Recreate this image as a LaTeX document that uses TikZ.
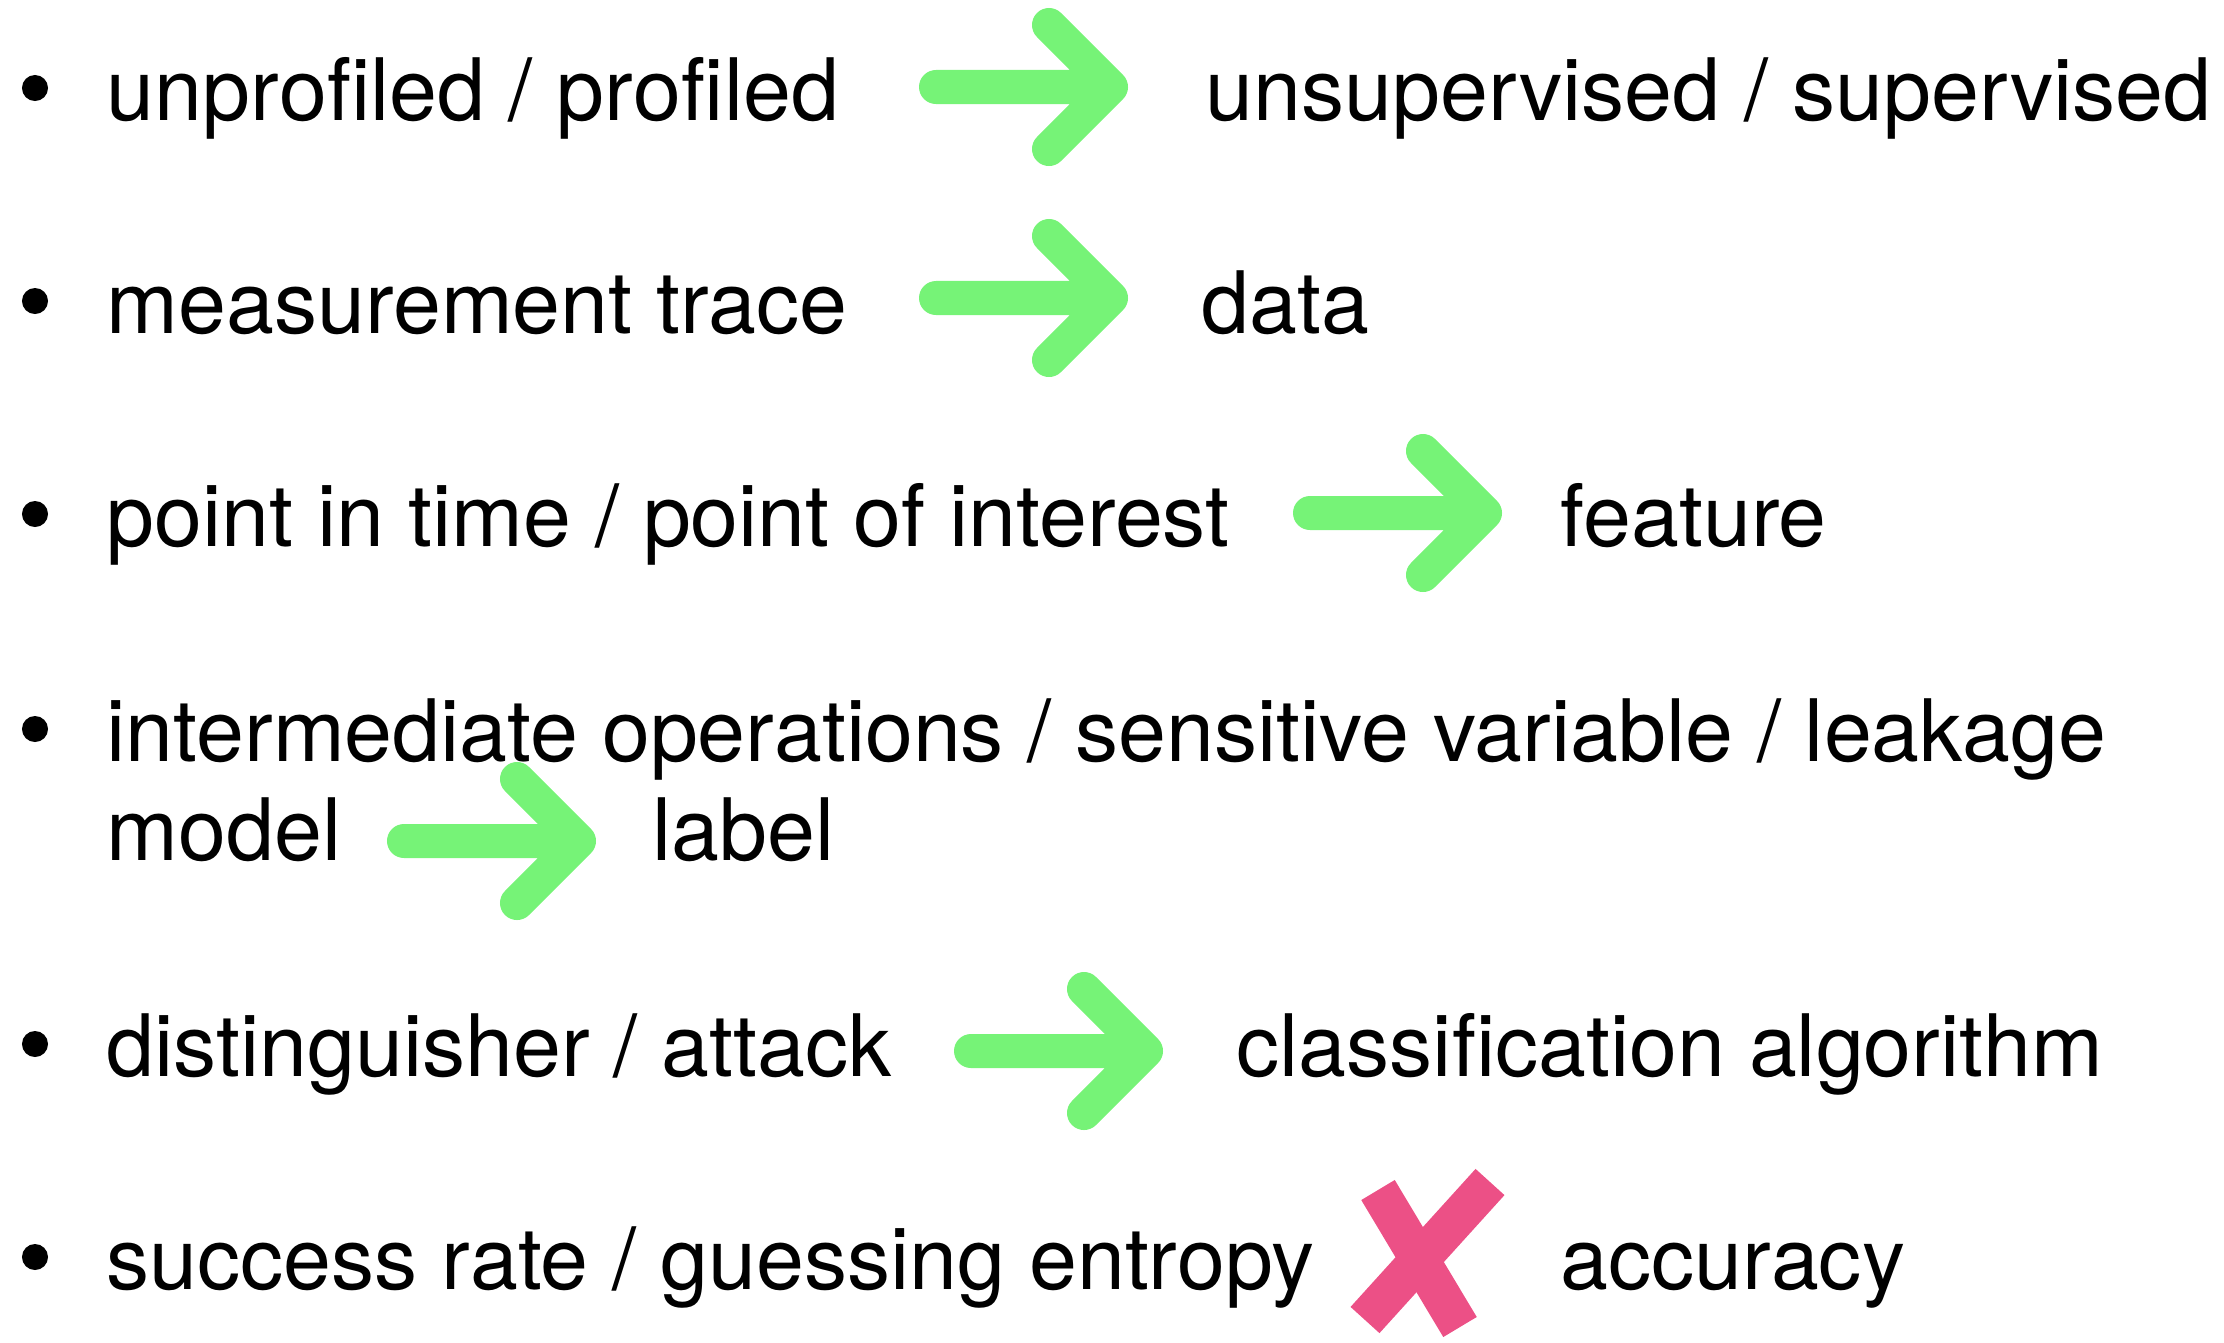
\documentclass[tikz,border=0pt]{standalone}
\usepackage{fontspec}
\setmainfont{TeX Gyre Heros}[Ligatures=NoCommon]
\usetikzlibrary{calc}
\definecolor{arrowgreen}{RGB}{118,243,119}
\definecolor{crosspink}{RGB}{236,80,134}

\begin{document}
\begin{tikzpicture}[x=0.01cm, y=-0.01cm]
    \tikzset{item/.style={anchor=base west, inner sep=0pt, font=\fontsize{24.5}{29}\selectfont},
        dot/.style={circle, fill=black, inner sep=0pt, minimum size=0.26cm},
        goesto/.style={draw=arrowgreen, line width=0.34cm, line cap=round, line join=round},
        wrong/.style={draw=crosspink, line width=0.39cm}
    }
    \useasboundingbox (0,0) rectangle (2224,1342);

    \foreach \i / \y in {1/120, 2/333, 3/546, 4/761, 5/1076, 6/1289} {
        \node (B\i) [dot] at (35, \y-32) {};
    }

    \node (L1) [item] at (106,120) {unprofiled / profiled};
    \node (R1) [item] at (1205,120) {unsupervised / supervised};
    \node (L2) [item] at (106,333) {measurement trace};
    \node (R2) [item] at (1201,333) {data};
    \node (L3) [item] at (106,546) {point in time / point of interest};
    \node (R3) [item] at (1560,546) {feature};
    \node (L4) [item] at (106,761) {intermediate operations / sensitive variable / leakage};
    \node (L4b) [item] at (106,860) {model};
    \node (R4) [item] at (652,860) {label};
    \node (L5) [item] at (106,1076) {distinguisher / attack};
    \node (R5) [item] at (1236,1076) {classification algorithm};
    \node (L6) [item] at (106,1289) {success rate / guessing entropy};
    \node (R6) [item] at (1560,1289) {accuracy};

    \foreach \i / \x / \y in {1/936/87, 2/936/298, 3/1310/513, 4/404/841, 5/971/1051} {
        \coordinate (A\i) at (\x,\y);
        \draw [goesto] (A\i) -- ++(175,0) coordinate (T\i) ++(-62,-62) -- (T\i) -- ++(-62,62);
    }

    \draw [wrong] (1378,1190) -- (1460,1327);
    \draw [wrong] (1490,1182) -- (1365,1320);
\end{tikzpicture}
\end{document}
